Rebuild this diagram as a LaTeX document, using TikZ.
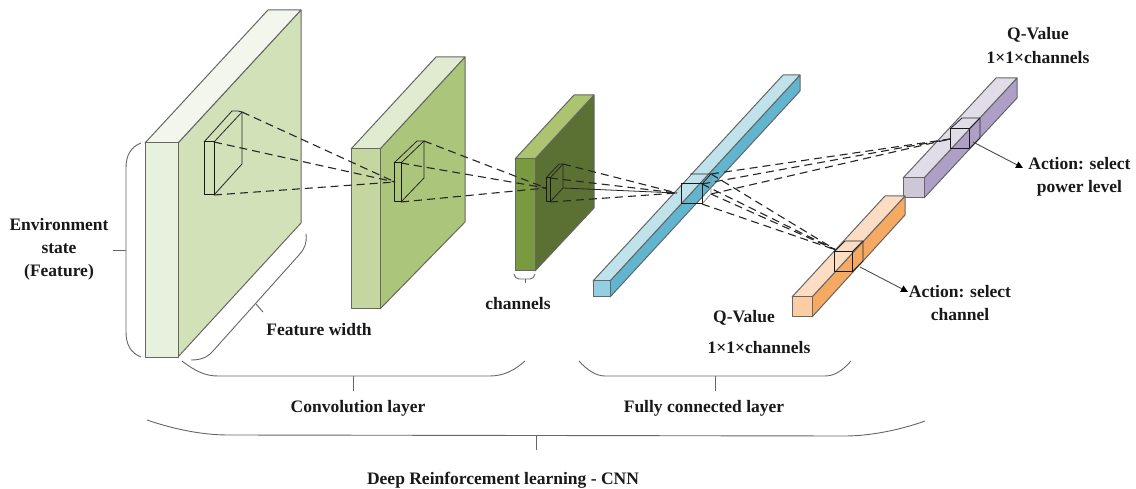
\documentclass[tikz,border=0pt]{standalone}
\usepackage{fontspec}
\setmainfont{Liberation Serif}
\usetikzlibrary{arrows.meta}
\definecolor{aF}{HTML}{E8F0DE}\definecolor{aT}{HTML}{F2F6EC}\definecolor{aS}{HTML}{D3E1B9}
\definecolor{bF}{HTML}{C5D7A0}\definecolor{bT}{HTML}{E1EBCF}\definecolor{bS}{HTML}{ABC57A}
\definecolor{cF}{HTML}{7A9A42}\definecolor{cT}{HTML}{ABC46F}\definecolor{cS}{HTML}{5B7033}
\definecolor{dF}{HTML}{93CFE0}\definecolor{dT}{HTML}{C0E2EA}\definecolor{dS}{HTML}{62B5CF}
\definecolor{eF}{HTML}{CDC7D7}\definecolor{eT}{HTML}{E0DCE8}\definecolor{eS}{HTML}{AE9FC6}
\definecolor{fF}{HTML}{FBCDA5}\definecolor{fT}{HTML}{FCDCC3}\definecolor{fS}{HTML}{F5A962}
\tikzset{
  blockedge/.style={draw=black!60,line width=1pt,line join=round},
  fan/.style={draw=black!85,line width=1.1pt,dash pattern=on 8pt off 5pt},
  fine/.style={draw=black!85,line width=.8pt,line join=round},
  strong/.style={draw=black!90,line width=1pt,line join=round},
  pale/.style={draw=black!45,line width=.8pt},
  bracket/.style={draw=black!60,line width=.9pt},
  lab/.style={font=\fontsize{17.5}{20}\selectfont\bfseries,align=center,inner sep=0pt,text=black!90},
  lead/.style={draw=black!70,line width=.9pt,-{Triangle[length=7pt,width=7pt,black]}}
}
% prefix, x1, x2, y1, y2, dx, back top y, back bottom y
\newcommand{\slab}[8]{%
  \path[blockedge,fill=#1S] (#3,#4) -- (#3+#6,#7) -- (#3+#6,#8) -- (#3,#5) -- cycle;
  \path[blockedge,fill=#1T] (#2,#4) -- (#2+#6,#7) -- (#3+#6,#7) -- (#3,#4) -- cycle;
  \path[blockedge,fill=#1F] (#2,#4) rectangle (#3,#5);
}
\begin{document}
\begin{tikzpicture}[x=1pt,y=-1pt]
\useasboundingbox (0,0) rectangle (1136,489);
\fill[white] (0,0) rectangle (1136,489);

% blocks
\slab{a}{145}{178}{143}{357}{123}{10}{223}
\slab{b}{351}{380}{149}{309}{85}{57}{222}
\slab{c}{515}{535}{159}{271}{59}{95}{208}
\slab{d}{593}{610}{281}{297}{190}{75}{91}
\slab{e}{903}{924}{178}{198}{93}{78}{98}
\slab{f}{792}{812}{297}{317}{93}{196}{215}

% anchor corners of the inner boxes
\coordinate (a1) at (242,112); \coordinate (a2) at (214,142); \coordinate (a3) at (214,195);
\coordinate (b0) at (395,182); \coordinate (b1) at (424,141); \coordinate (b2) at (401,163); \coordinate (b3) at (401,202);
\coordinate (c0) at (546,188); \coordinate (c1) at (563,164); \coordinate (c2) at (550,178); \coordinate (c3) at (550,202); \coordinate (c4) at (563,188);
\coordinate (d0) at (677,193); \coordinate (d1) at (711,174); \coordinate (d2) at (702,184); \coordinate (d3) at (711,194); \coordinate (d4) at (702,204);
\coordinate (e0) at (950,139); \coordinate (f0) at (836,250);

% fans
\draw[fan] (a1) -- (b0); \draw[fan] (a2) -- (b0); \draw[fan] (a3) -- (b0);
\draw[fan] (b1) -- (c0); \draw[fan] (b2) -- (c0); \draw[fan] (b3) -- (c0);
\draw[fan] (c1) -- (d0); \draw[fan] (c2) -- (d0); \draw[fan] (c3) -- (d0);
\draw[fine] (c4) -- (d0);
\draw[fan] (d1) -- (e0); \draw[fan] (d2) -- (e0); \draw[fan] (d3) -- (e0);
\draw[fan] (d1) -- (f0); \draw[fan] (d2) -- (f0); \draw[fan] (d3) -- (f0); \draw[fan] (d4) -- (f0);

% inner box in block 1
\draw[fine] (204,142) -- (232,111) -- (238,111) -- (a1) -- (242,164) -- (a3);
\draw[fine] (a2) -- (a1);
\draw[strong] (204,142) rectangle (a3);
% inner box in block 2
\draw[fine] (394,163) -- (417,141) -- (b1) -- (424,178) -- (b3);
\draw[fine] (b2) -- (b1);
\draw[strong] (394,163) rectangle (b3);
% inner box in block 3
\draw[fine] (546,178) -- (559,164) -- (c1) -- (c4) -- (c3);
\draw[fine] (c2) -- (c1);
\draw[strong] (546,178) rectangle (c3);
% cube on blue bar
\draw[white,line width=.9pt] (681,184) -- (690,174);
\draw[pale] (d1) -- (d3) -- (d4);
\draw[fine] (690,174) -- (d1) -- (d2);
\draw[strong] (681,184) rectangle (d4);
% cube on purple bar
\draw[fine] (950,129) -- (962,118) -- (980,118) -- (980,138) -- (969,149);
\draw[fine] (969,129) -- (980,118);
\draw[strong] (950,129) rectangle (969,149);
% cube on orange bar
\draw[fine] (834,252) -- (845,241) -- (863,241) -- (863,261) -- (852,272);
\draw[fine] (852,252) -- (863,241);
\draw[strong] (834,252) rectangle (852,272);

% leaders
\coordinate (e5) at (973,142); \coordinate (f5) at (860,267);
\node[lab] (act1) at (1079.5,177) {Action: select\\[2.5pt]power level};
\node[lab] (act2) at (960,303) {Action: select\\[2.5pt]channel};
\draw[lead] (e5) -- (1023,168);
\draw[lead] (f5) -- (908,292);

% brackets
\draw[bracket] (141,143) .. controls (131,147) and (126,155) .. (126,168) -- (126,332) .. controls (126,345) and (131,353) .. (141,357);
\draw[bracket] (113,250) -- (126,250);
\draw[bracket] (191,360) .. controls (200,360) and (207,358) .. (213,351) -- (299,255) .. controls (305,248) and (307,243) .. (306,234);
\draw[bracket] (256,304) -- (263,312);
\draw[bracket] (182,361) .. controls (195,371) and (205,376) .. (218,376) -- (490,376) .. controls (505,376) and (516,369) .. (525,361);
\draw[bracket] (353,376) -- (353,391);
\draw[bracket] (514,274) .. controls (515,277) and (516,279) .. (519,279) -- (530,279) .. controls (533,279) and (534,277) .. (535,274);
\draw[bracket] (525,279) -- (525,283);
\draw[bracket] (579,361) .. controls (587,370) and (596,376) .. (605,376) -- (825,376) .. controls (835,376) and (843,370) .. (851,361);
\draw[bracket] (715,376) -- (715,391);
\draw[bracket] (147,420) .. controls (170,428) and (200,435) .. (228,435) -- (845,436) .. controls (870,436) and (900,430) .. (925,421);
\draw[bracket] (536,436) -- (536,450);

% labels
\node[lab] (env) at (59,249) {Environment\\[3pt]state\\[3pt](Feature)};
\node[lab] (fw) at (319,330) {Feature width};
\node[lab] (ch) at (518,303.5) {channels};
\node[lab] (conv) at (358,408.5) {Convolution layer};
\node[lab] (fc) at (704,408.5) {Fully connected layer};
\node[lab] (drl) at (503,480.5) {Deep Reinforcement learning - CNN};
\node[lab] (q1) at (744,318) {Q-Value};
\node[lab] (q1b) at (759,347.5) {1×1×channels};
\node[lab] (q2) at (1038,35) {Q-Value};
\node[lab] (q2b) at (1038,58) {1×1×channels};
\end{tikzpicture}
\end{document}
